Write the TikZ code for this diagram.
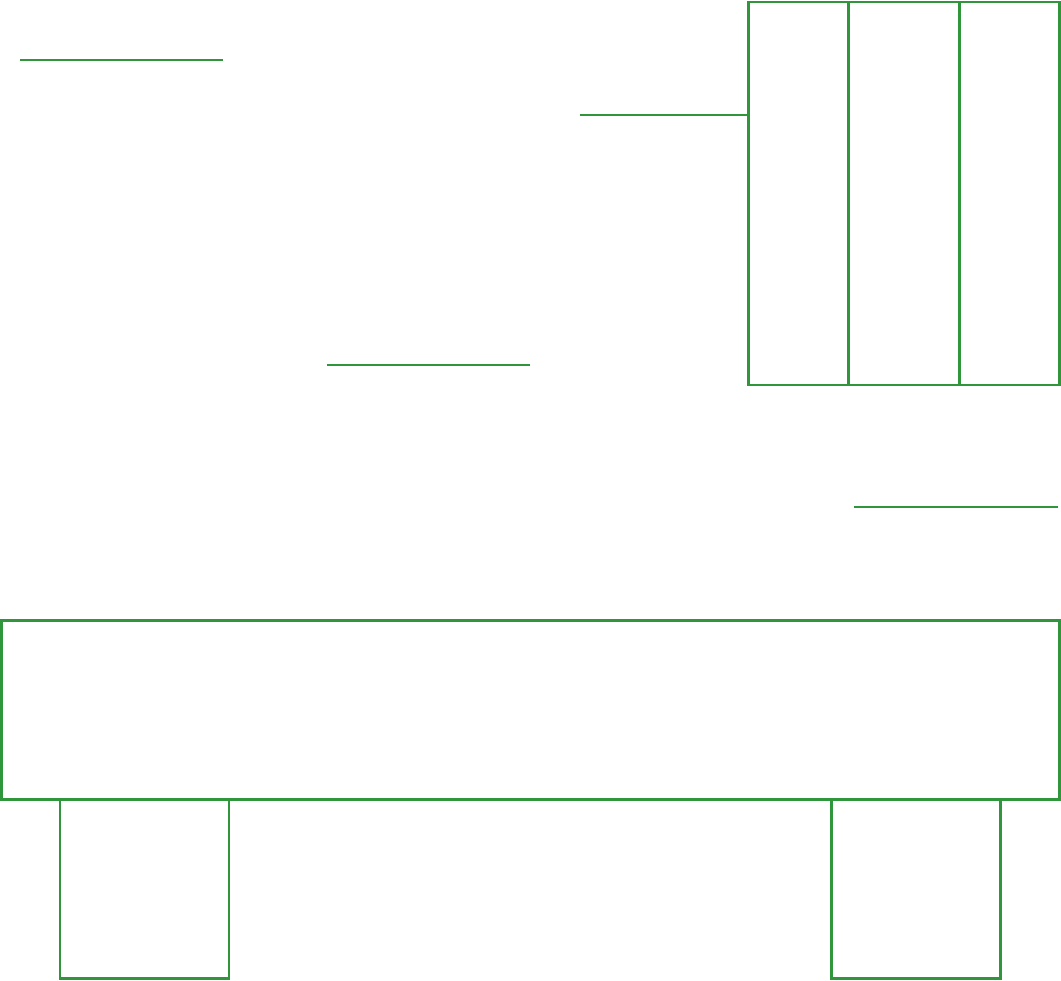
\documentclass[tikz,border=0pt]{standalone}
\usepackage{tikz}
\definecolor{benchgreen}{RGB}{48,150,60}

\begin{document}
\begin{tikzpicture}[x=0.02cm, y=-0.02cm, line width=1.7pt, benchgreen]
	\useasboundingbox (0,0) rectangle (1061,980);

	\draw (20,60) -- (223,60);
	\draw (327,365) -- (530,365);
	\draw (854,507) -- (1058,507);

	\draw (748,2) rectangle (1059,385);
	\draw (848,2) -- (848,385);
	\draw (959,2) -- (959,385);
	\draw (580,115) -- (748,115);

	\draw (1.5,620) rectangle (1059,799);
	\draw (60,799) rectangle (229,978);
	\draw (831,799) rectangle (1000,978);
\end{tikzpicture}
\end{document}
